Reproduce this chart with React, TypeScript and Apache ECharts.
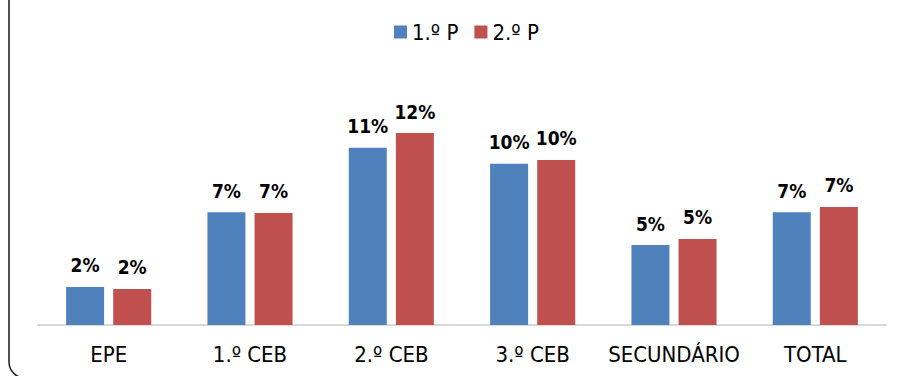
import React, { useEffect, useRef } from "react";
import * as echarts from "echarts";

const categories = ["EPE", "1.º CEB", "2.º CEB", "3.º CEB", "SECUNDÁRIO", "TOTAL"];
const seriesNames = ["1.º P", "2.º P"];
const firstPeriod = [2.36, 7.0, 11.0, 10.0, 4.96, 7.0];
const secondPeriod = [2.24, 6.95, 11.9, 10.24, 5.34, 7.32];
const colors = ["#4F81BD", "#C0504D"];

const FONT = "'DejaVu Sans Condensed', 'DejaVu Sans', sans-serif";

export default function App() {
  const ref = useRef<HTMLDivElement>(null);
  useEffect(() => {
    if (!ref.current) return;
    const chart = echarts.init(ref.current, undefined, { renderer: "svg" });
    const mkSeries = (name: string, data: number[], color: string) => ({
      name,
      type: "bar",
      data,
      barWidth: 38,
      barGap: "24%",
      itemStyle: { color },
      label: {
        show: true,
        position: "top",
        distance: 12,
        fontFamily: FONT,
        fontWeight: "bold",
        fontSize: 19,
        color: "#000",
        formatter: (p: any) => Math.round(p.value) + "%",
      },
    });
    chart.setOption({
      animation: false,
      backgroundColor: "#fff",
      textStyle: { fontFamily: FONT },
      graphic: [
        {
          type: "rect",
          shape: { x: 9, y: -40, width: 2000, height: 418, r: 16 },
          style: { fill: "none", stroke: "#1a1a1a", lineWidth: 1.5 },
          silent: true,
          z: 100,
        },
      ],
      legend: {
        data: seriesNames,
        left: 389,
        top: 16,
        itemWidth: 13,
        itemHeight: 13,
        itemGap: 16,
        icon: "rect",
        textStyle: { fontFamily: FONT, fontSize: 22, color: "#000", lineHeight: 20 },
      },
      grid: { left: 38, right: 17, top: 67, bottom: 51, containLabel: false },
      xAxis: {
        type: "category",
        data: categories,
        axisLine: { lineStyle: { color: "#d9d9d9", width: 2 } },
        axisTick: { show: false },
        axisLabel: { fontFamily: FONT, fontSize: 22, color: "#000", margin: 18, interval: 0 },
      },
      yAxis: {
        type: "value",
        min: 0,
        max: 16,
        show: false,
        splitLine: { show: false },
      },
      series: [
        mkSeries(seriesNames[0], firstPeriod, colors[0]),
        mkSeries(seriesNames[1], secondPeriod, colors[1]),
      ],
    });
    return () => chart.dispose();
  }, []);
  return (
    <div
      ref={ref}
      style={{ position: "fixed", left: 0, top: 0, width: 903, height: 376 }}
    />
  );
}
